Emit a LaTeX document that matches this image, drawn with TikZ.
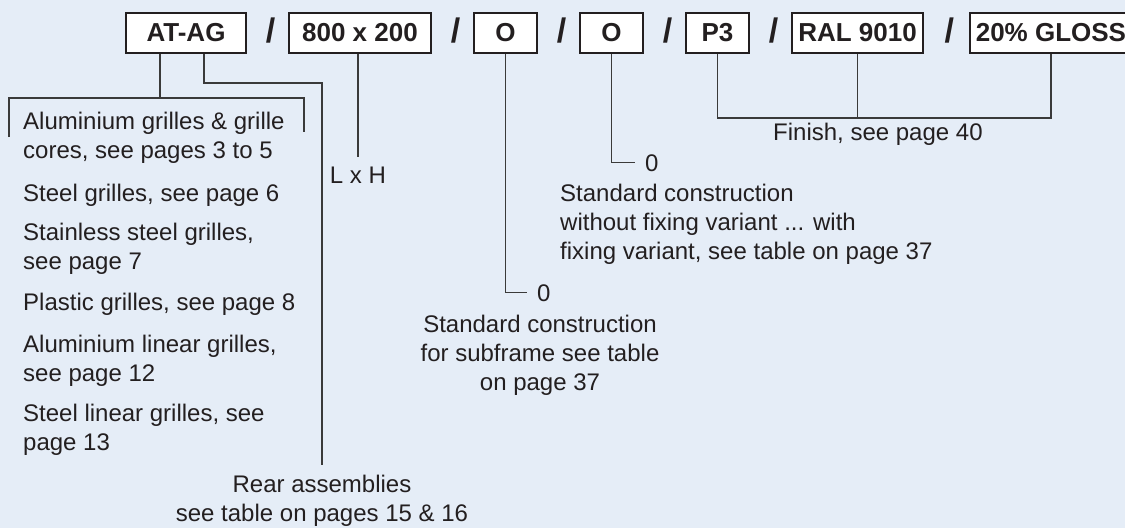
\documentclass[tikz,border=0pt]{standalone}
\usepackage{fontspec}
\setmainfont{Liberation Sans}
\usepackage{xcolor}
\usetikzlibrary{calc,positioning}
\definecolor{bgx}{HTML}{E5EDF7}
\definecolor{inkx}{HTML}{231F20}
\definecolor{linex}{HTML}{3A3A3A}
\tikzset{
  codebox/.style={draw=inkx,line width=1.6pt,fill=white,minimum height=40pt,inner sep=0pt,font=\fontsize{26}{30}\selectfont\bfseries,text=inkx},
  slash/.style={inner sep=0pt,font=\fontsize{34}{34}\selectfont\bfseries,text=inkx},
  ln/.style={draw=linex,line width=1.3pt},
  tolbl/.style={ln,shorten >=9pt},
  lbl/.style={inner sep=0pt,font=\fontsize{24}{29}\selectfont,text=inkx}
}
\begin{document}
\begin{tikzpicture}[x=1pt,y=-1pt]
\fill[bgx] (0,0) rectangle (1125,528);
\useasboundingbox (0,0) rectangle (1125,528);
% code boxes
\node[codebox,minimum width=120pt] (atag) at (186,33) {AT-AG};
\node[codebox,minimum width=142pt] (size) at (360,33) {800 x 200};
\node[codebox,minimum width=63pt] (ofirst) at (505.5,33) {O};
\node[codebox,minimum width=63pt] (osecond) at (611.5,33) {O};
\node[codebox,minimum width=63pt] (pthree) at (717.5,33) {P3};
\node[codebox,minimum width=131pt] (ral) at (857.5,33) {RAL 9010};
\node[codebox,anchor=west,inner xsep=6pt] (gloss) at (969,33) {20\% GLOSS};
\foreach \p/\q in {atag/size,size/ofirst,ofirst/osecond,osecond/pthree,pthree/ral,ral/gloss}
  \node[slash] (sl-\p) at ($(\p.east)!0.5!(\q.west)+(3,-2)$) {/};
% type list (base = last line)
\coordinate (legA) at (160,98);
\coordinate (brl) at (9,137);
\coordinate (brr) at (304,132);
\draw[ln] (atag.south -| legA) -- (legA);
\draw[ln] (brl) |- (legA) -| (brr);
\foreach \t/\y [count=\i] in {{Aluminium grilles \& grille\\cores, see pages 3 to 5}/158,
    {Steel grilles, see page 6}/201,
    {Stainless steel grilles,\\see page 7}/269,
    {Plastic grilles, see page 8}/310,
    {Aluminium linear grilles,\\see page 12}/381,
    {Steel linear grilles, see\\page 13}/450}
  \node[lbl,align=left,anchor=base west] (item\i) at (23,\y) {\t};
% rear assemblies
\coordinate (legB) at (204,83);
\node[lbl,align=center,anchor=base] (rear) at (322,521) {Rear assemblies\\see table on pages 15 \& 16};
\draw[tolbl] (atag.south -| legB) -- (legB) -| (rear.north);
% size
\node[lbl,anchor=base] (lxh) at (358,183) {L x H};
\draw[tolbl] (size.south -| lxh) -- (lxh.north);
% construction
\node[lbl,anchor=base west] (zeroa) at (537,301) {0};
\draw[ln,shorten >=10pt] (ofirst.south) |- (zeroa.west);
\node[lbl,align=center,anchor=base] (stda) at (540,390) {Standard construction\\for subframe see table\\on page 37};
\node[lbl,anchor=base west] (zerob) at (645,171) {0};
\draw[ln,shorten >=10pt] (osecond.south) |- (zerob.west);
\node[lbl,align=left,anchor=base west] (stdb) at (560,259) {Standard construction\\without fixing variant ... with\\fixing variant, see table on page 37};
% finish
\coordinate (fin) at (856,118);
\draw[ln] (pthree.south) |- (ral.south |- fin) -| (gloss.south);
\draw[ln] (ral.south) -- (ral.south |- fin);
\node[lbl,anchor=base west] (finish) at (773,140) {Finish, see page 40};
\end{tikzpicture}
\end{document}
